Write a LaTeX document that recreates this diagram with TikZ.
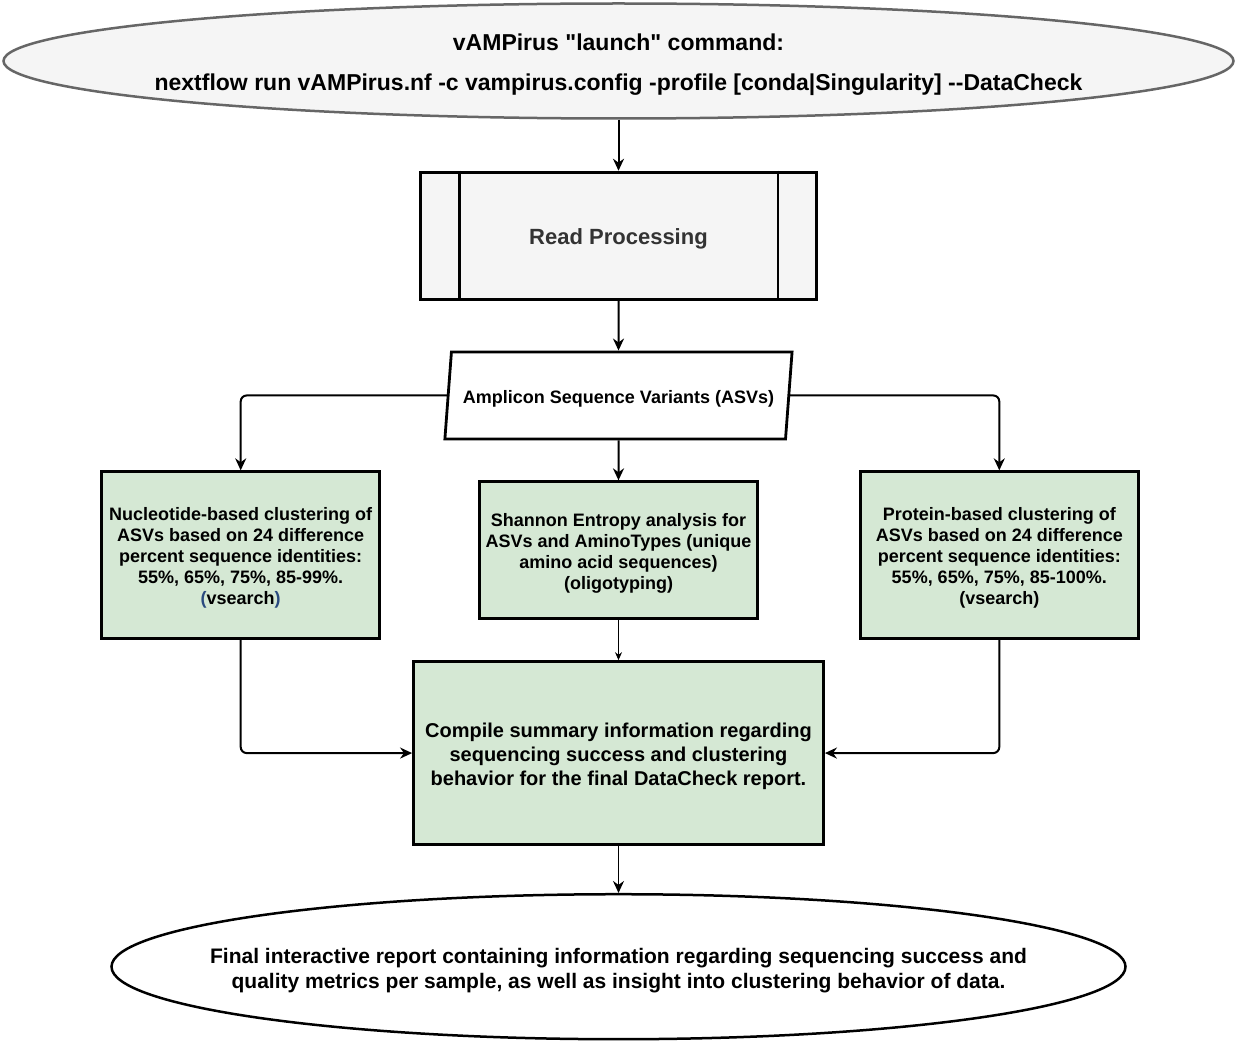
\documentclass[tikz,border=0pt]{standalone}
\usepackage{fontspec}
\setmainfont{Liberation Sans}[Ligatures=TeXOff]
\usetikzlibrary{positioning,shapes.geometric,arrows.meta}
\definecolor{grn}{HTML}{D5E8D4}
\definecolor{lgr}{HTML}{F5F5F5}
\definecolor{dgr}{HTML}{666666}
\definecolor{txg}{HTML}{333333}
\definecolor{vsb}{HTML}{2A4A7F}
\newcommand\lift{\rule{0pt}{1.05em}}
\tikzset{
  lnch/.style={ellipse, minimum width=1230pt, minimum height=115pt, inner xsep=-40pt, text centered, draw=dgr, fill=lgr, line width=2.5pt, align=center, font=\fontsize{23}{23}\selectfont\bfseries},
  sub/.style={rectangle, minimum width=396pt, minimum height=127pt, text centered, draw=black, fill=lgr, line width=2.8pt, text=txg, font=\fontsize{22}{26}\selectfont\bfseries, execute at begin node=\lift},
  io/.style={trapezium, trapezium left angle=78, trapezium right angle=102, trapezium stretches=true, minimum width=348pt, minimum height=87pt, text centered, draw=black, fill=white, line width=2.8pt, font=\fontsize{18}{21}\selectfont\bfseries, execute at begin node=\lift},
  gb/.style={rectangle, minimum width=278pt, minimum height=167pt, text centered, draw=black, fill=grn, line width=2.8pt, align=center, font=\fontsize{18}{21}\selectfont\bfseries},
  rep/.style={ellipse, minimum width=1014pt, minimum height=145pt, inner xsep=-60pt, text centered, draw=black, fill=white, line width=2.5pt, align=center, font=\fontsize{21}{25}\selectfont\bfseries},
  ln/.style={line width=2pt, -{Stealth[length=12pt,width=11pt]}, rounded corners=6pt},
  node distance=40pt
}

\begin{document}
\begin{tikzpicture}[x=1pt, y=-1pt]
	\useasboundingbox (0,0) rectangle (1237,1043);

	\node[lnch] (launch) at (618.5,61) {\lift vAMPirus "launch" command:\\[17pt]nextflow run vAMPirus.nf -c vampirus.config -profile [conda|Singularity] --DataCheck};
	\node[sub, below=51pt of launch] (readproc) {Read Processing};
	\draw[line width=2.8pt] ([xshift=40pt]readproc.north west) -- ([xshift=40pt]readproc.south west);
	\draw[line width=2.8pt] ([xshift=-40pt]readproc.north east) -- ([xshift=-40pt]readproc.south east);
	\node[io, below=50pt of readproc] (asv) {Amplicon Sequence Variants (ASVs)};

	\node[gb, below=of asv, minimum height=137pt] (shannon) {\lift Shannon Entropy analysis for\\ASVs and AminoTypes (unique\\amino acid sequences)\\(oligotyping)};
	\node[gb, left=97pt of shannon, yshift=-5pt] (nucl) {\lift Nucleotide-based clustering of\\ASVs based on 24 difference\\percent sequence identities:\\55\%, 65\%, 75\%, 85-99\%.\\{\color{vsb}(}vsearch{\color{vsb})}};
	\node[gb, right=100pt of shannon, yshift=-5pt] (prot) {\lift Protein-based clustering of\\ASVs based on 24 difference\\percent sequence identities:\\55\%, 65\%, 75\%, 85-100\%.\\(vsearch)};
	\node[gb, below=of shannon, minimum width=410pt, minimum height=183pt, font=\fontsize{20}{24}\selectfont\bfseries] (compile) {\lift Compile summary information regarding\\sequencing success and clustering\\behavior for the final DataCheck report.};
	\node[rep, below=47pt of compile] (report) {\lift Final interactive report containing information regarding sequencing success and\\quality metrics per sample, as well as insight into clustering behavior of data.};

	\draw[ln] (launch) -- (readproc);
	\draw[ln] (readproc) -- (asv);
	\draw[ln] (asv.left side) -| (nucl);
	\draw[ln] (asv.right side) -| (prot);
	\draw[ln] (asv) -- (shannon);
	\draw[ln, line width=1pt, -{Stealth[length=8pt,width=7pt]}] (shannon) -- (compile);
	\draw[ln] (nucl) |- (compile);
	\draw[ln] (prot) |- (compile);
	\draw[ln, line width=1.6pt] (compile) -- (report);
\end{tikzpicture}
\end{document}
